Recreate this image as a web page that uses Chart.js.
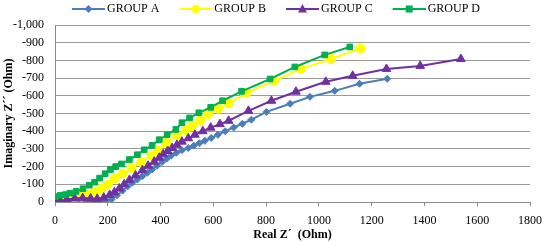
<!DOCTYPE html>
<html><head><meta charset="utf-8">
<script src="https://cdn.jsdelivr.net/npm/chart.js@4/dist/chart.umd.min.js"></script>
<style>html,body{margin:0;padding:0;background:#fff}#wrap{width:550px;height:242px}</style>
</head><body><div id="wrap"><canvas id="c" width="550" height="242"></canvas></div>
<script>
const seriesNames = ['GROUP A', 'GROUP B', 'GROUP C', 'GROUP D'];
const groupA_re = [5, 40, 80, 120, 160, 190, 214, 235, 256, 275, 293, 312, 331, 350, 368, 387, 406, 423, 440, 460, 481, 505, 526, 547, 568, 592, 617, 645, 677, 710, 744, 801, 891, 966, 1060, 1154, 1259];
const groupA_im = [0, -2, -3, -4, -4, -5, -14, -38, -64, -88, -109, -127, -146, -165, -184, -205, -226, -245, -262, -278, -293, -305, -318, -332, -346, -362, -380, -400, -421, -442, -465, -509, -555, -594, -628, -668, -696];
const groupB_re = [0, 25, 50, 75, 100, 125, 150, 175, 200, 226, 256, 290, 327, 365, 390, 421, 463, 495, 519, 550, 580, 618, 658, 726, 831, 932, 1045, 1158];
const groupB_im = [-12, -14, -17, -22, -30, -40, -55, -75, -100, -132, -160, -192, -225, -262, -290, -335, -375, -405, -430, -460, -497, -527, -557, -617, -684, -752, -808, -868];
const groupC_re = [0, 20, 45, 75, 105, 135, 160, 185, 207, 225, 244, 262, 282, 305, 331, 353, 376, 395, 410, 427, 444, 462, 481, 505, 530, 560, 590, 625, 658, 733, 820, 913, 1026, 1128, 1256, 1384, 1538];
const groupC_im = [0, -5, -14, -20, -22, -20, -18, -25, -40, -55, -76, -100, -125, -150, -180, -205, -228, -250, -270, -288, -305, -323, -341, -360, -380, -400, -420, -440, -459, -515, -572, -623, -679, -713, -752, -769, -808];
const groupD_re = [0, 20, 40, 56, 80, 106, 130, 150, 169, 190, 210, 230, 252, 282, 312, 338, 368, 395, 425, 458, 481, 510, 545, 590, 635, 707, 815, 909, 1022, 1117];
const groupD_im = [-30, -38, -42, -50, -60, -75, -95, -112, -135, -160, -183, -200, -215, -240, -267, -295, -320, -352, -380, -410, -448, -475, -504, -535, -572, -625, -695, -763, -831, -876];
const xTicks = [0, 200, 400, 600, 800, 1000, 1200, 1400, 1600, 1800];
const yTicks = [-1000, -900, -800, -700, -600, -500, -400, -300, -200, -100, 0];

const colors = ['#4A7EBB', '#FFFF00', '#7030A0', '#00B050'];
const styles = ['rectRot', 'circle', 'triangle', 'rect'];
const radii = [3.5, 4.5, 5, 4];
const orders = [3, 2, 1, 0];
const series = [[groupA_re, groupA_im], [groupB_re, groupB_im], [groupC_re, groupC_im], [groupD_re, groupD_im]];

const toPts = (re, im) => re.map((x, i) => ({x: x, y: im[i]}));

function legendImage(i) {
  const cv = document.createElement('canvas');
  cv.width = 55; cv.height = 12;
  const g = cv.getContext('2d');
  g.strokeStyle = colors[i]; g.lineWidth = 2;
  g.beginPath(); g.moveTo(22, 6); g.lineTo(55, 6); g.stroke();
  g.fillStyle = colors[i];
  const cx = 38.5, cy = 6;
  g.beginPath();
  if (styles[i] === 'rectRot') { g.moveTo(cx, cy - 4); g.lineTo(cx + 4, cy); g.lineTo(cx, cy + 4); g.lineTo(cx - 4, cy); g.closePath(); }
  else if (styles[i] === 'circle') { g.arc(cx, cy, 4.2, 0, Math.PI * 2); }
  else if (styles[i] === 'triangle') { g.moveTo(cx, cy - 5); g.lineTo(cx + 4.5, cy + 3.5); g.lineTo(cx - 4.5, cy + 3.5); g.closePath(); }
  else { g.rect(cx - 3.5, cy - 3.5, 7, 7); }
  g.fill();
  return cv;
}
const legendImgs = [0, 1, 2, 3].map(legendImage);

const datasets = series.map((s, i) => ({
  label: seriesNames[i],
  data: toPts(s[0], s[1]),
  showLine: true,
  borderColor: colors[i],
  backgroundColor: colors[i],
  borderWidth: 2,
  pointStyle: styles[i],
  pointRadius: radii[i],
  pointBorderWidth: 1,
  pointBorderColor: colors[i],
  pointBackgroundColor: colors[i],
  order: orders[i]
}));

const serif = "'Liberation Serif', 'Times New Roman', serif";

new Chart(document.getElementById('c'), {
  type: 'scatter',
  data: { datasets: datasets },
  options: {
    responsive: false,
    animation: false,
    layout: { padding: { top: 1, right: 16, left: 0, bottom: 0 } },
    plugins: {
      tooltip: { enabled: false },
      legend: {
        position: 'top',
        labels: {
          usePointStyle: true,
          pointStyleWidth: 47,
          padding: 2,
          color: '#000',
          font: { family: serif, size: 12 },
          generateLabels: (chart) => chart.data.datasets.map((d, i) => ({
            text: d.label, datasetIndex: i, pointStyle: legendImgs[i],
            fillStyle: colors[i], strokeStyle: colors[i], lineWidth: 0, hidden: false, fontColor: '#000'
          }))
        }
      }
    },
    scales: {
      x: {
        type: 'linear', min: 0, max: 1800,
        afterFit: (s) => { s.height = 40; },
        afterBuildTicks: (s) => { s.ticks = xTicks.map(v => ({value: v})); },
        border: { color: '#8a8a8a', width: 1 },
        grid: { drawOnChartArea: false, color: '#8a8a8a', tickLength: 4 },
        ticks: { color: '#000', padding: 8, maxRotation: 0, font: { family: serif, size: 12 }, callback: (v) => String(v) },
        title: { display: true, text: 'Real Z´  (Ohm)', color: '#000', padding: { top: 0, bottom: 0 }, font: { family: serif, size: 12, weight: 'bold' } }
      },
      y: {
        type: 'linear', min: -1000, max: 0, reverse: true,
        afterFit: (s) => { s.width = 55; },
        afterBuildTicks: (s) => { s.ticks = yTicks.map(v => ({value: v})); },
        border: { color: '#8a8a8a', width: 1 },
        grid: { color: '#9a9a9a', drawTicks: false, tickLength: 0 },
        ticks: { color: '#000', padding: 11, font: { family: serif, size: 12 }, callback: (v) => Number(v).toLocaleString('en-US') },
        title: { display: true, text: 'Imaginary Z´´ (Ohm)', color: '#000', padding: { top: 2, bottom: 0 }, font: { family: serif, size: 12, weight: 'bold' } }
      }
    }
  }
});
</script></body></html>
